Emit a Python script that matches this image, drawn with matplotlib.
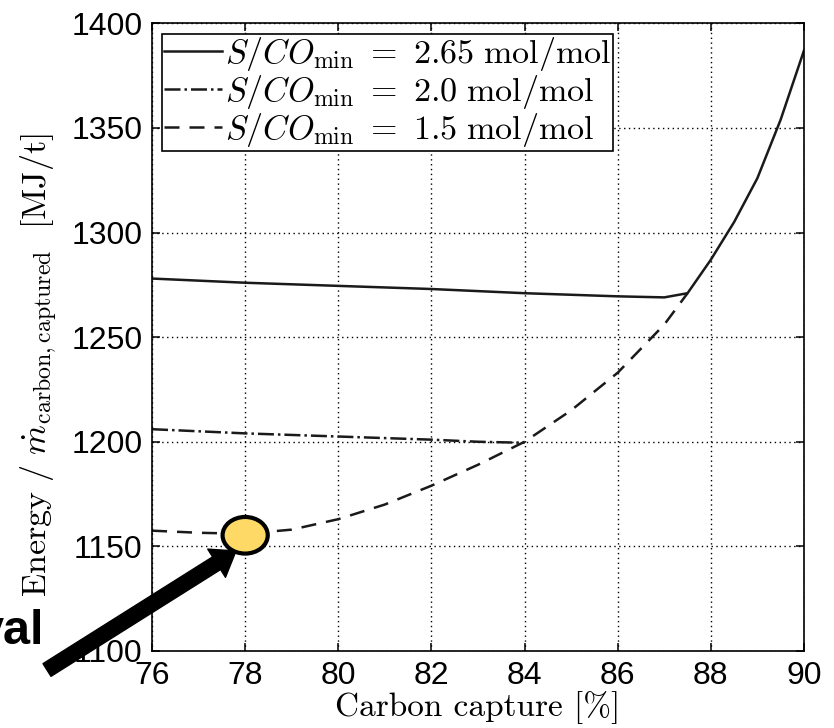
import matplotlib
matplotlib.use("Agg")
import matplotlib.pyplot as plt
from matplotlib.patches import Ellipse

plt.rcParams['mathtext.fontset'] = 'cm'

# curve data
x_265 = [76, 78, 80, 82, 84, 86, 87, 87.5, 88, 88.5, 89, 89.5, 90]
y_265 = [1278, 1276, 1274.5, 1273, 1271, 1269.5, 1269, 1271, 1287, 1305, 1326, 1354, 1387]

x_20 = [76, 78, 80, 82, 83, 84]
y_20 = [1206, 1204, 1202.5, 1201, 1200, 1199.5]

x_15 = [76, 77, 78, 79, 80, 81, 82, 83, 84, 85, 86, 87, 87.5]
y_15 = [1157.5, 1156.5, 1156, 1158, 1163, 1170, 1179, 1189, 1200, 1215, 1233, 1256, 1271]

labels = [r'$S/CO_{\mathrm{min}}\ =\ 2.65\ \mathrm{mol/mol}$',
          r'$S/CO_{\mathrm{min}}\ =\ 2.0\ \mathrm{mol/mol}$',
          r'$S/CO_{\mathrm{min}}\ =\ 1.5\ \mathrm{mol/mol}$']

x_ticks = [76, 78, 80, 82, 84, 86, 88, 90]
y_ticks = [1100, 1150, 1200, 1250, 1300, 1350, 1400]

marker_x, marker_y = 78.0, 1155.3

fig = plt.figure(figsize=(8.34, 7.28), dpi=100)
ax = fig.add_axes([0.1823, 0.1058, 0.7817, 0.8622])

lc = '#1a1a1a'
ax.plot(x_265, y_265, '-', color=lc, lw=1.8, label=labels[0])
ax.plot(x_20, y_20, '-.', color=lc, lw=1.8, label=labels[1])
ax.plot(x_15, y_15, '--', color=lc, lw=1.8, dashes=(6, 4), label=labels[2])

ax.set_xlim(76, 90)
ax.set_ylim(1100, 1400)
ax.set_xticks(x_ticks)
ax.set_yticks(y_ticks)
ax.grid(True, color='black', linestyle=(0, (1, 2.5)), linewidth=1.0)
ax.tick_params(direction='in', length=6, width=1.1, top=True, right=True,
               labelsize=23, pad=7)
for lab in ax.get_xticklabels() + ax.get_yticklabels():
    lab.set_family('Liberation Sans')
for sp in ax.spines.values():
    sp.set_linewidth(1.2)

ax.set_xlabel('Carbon capture [%]', fontsize=24, family='cmr10', labelpad=0)
ax.set_ylabel(r'$\mathrm{Energy}\ /\ \dot{m}_{\mathrm{carbon,captured}}\ \ \mathrm{[MJ/t]}$',
              fontsize=24.5)
ax.yaxis.set_label_coords(-0.143, 0.455)

leg = ax.legend(loc='upper left', fontsize=24.5, handlelength=1.7, handletextpad=0.1,
                borderpad=0.05, labelspacing=0.0, borderaxespad=0.3,
                fancybox=False, framealpha=1, edgecolor='black')
leg.get_frame().set_linewidth(1.2)

# highlighted point and arrow
ell = Ellipse((marker_x, marker_y), 0.97, 17.5, facecolor='#ffd966', edgecolor='black',
              lw=3, zorder=10, clip_on=False)
ax.add_patch(ell)
ax.annotate('', xy=(236, 177), xytext=(47, 58), xycoords='figure pixels',
            textcoords='figure pixels', annotation_clip=False,
            arrowprops=dict(arrowstyle='simple,head_length=1.1,head_width=1.6,tail_width=0.72',
                            mutation_scale=15, color='black', shrinkA=0, shrinkB=0),
            zorder=11)
fig.text(44 / 834, 1 - 644 / 728, 'val', fontsize=35, fontweight='bold',
         family='Liberation Sans', ha='right', va='baseline')

fig.savefig('out.png', dpi=100)
